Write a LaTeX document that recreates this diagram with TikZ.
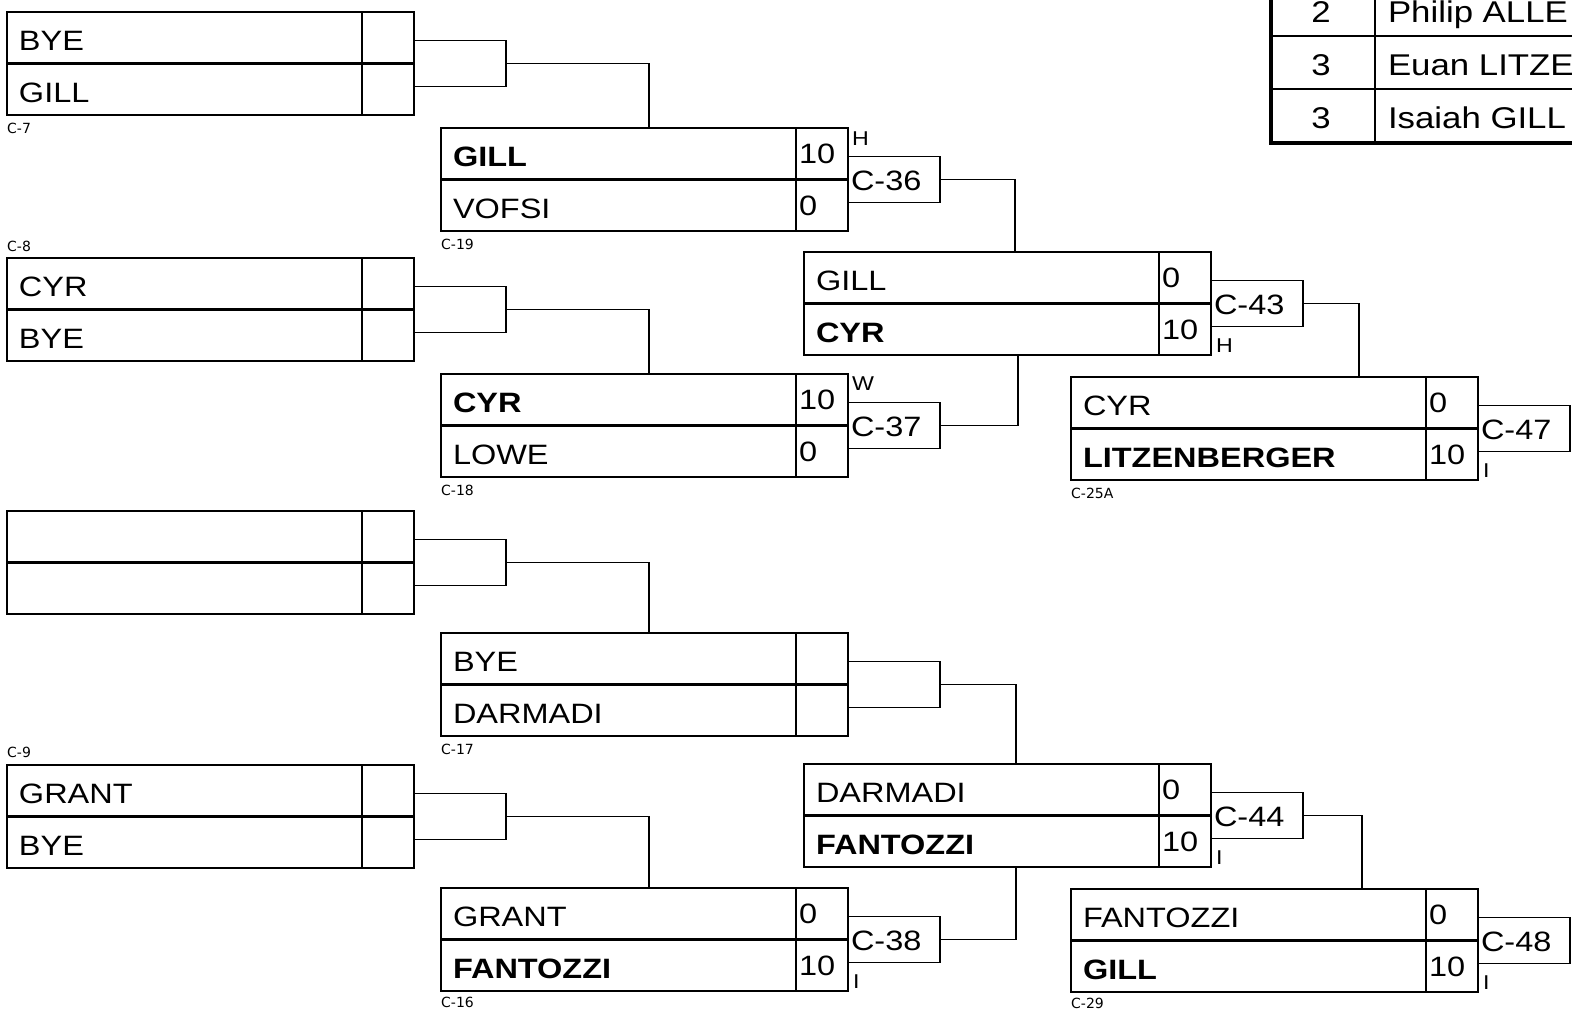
\documentclass[tikz,border=0pt]{standalone}
\usepackage{fontspec}
\setmainfont[FakeStretch=1.16]{Liberation Sans}
\newfontfamily\lblfont{DejaVu Sans}
\newcommand{\bkmatch}[7]{%
  \node[mbox, anchor=north west] (#1) at (#2,#3) {};
  \draw[midline] (#1.west) -- (#1.east);
  \draw[divline] ([xshift=-52pt]#1.north east) -- ([xshift=-52pt]#1.south east);
  \node[nm, anchor=base west] (#1-a) at ([xshift=12pt,yshift=-38pt]#1.north west) {#4};
  \node[nm, anchor=base west] (#1-b) at ([xshift=12pt,yshift=13pt]#1.south west) {#5};
  \node[nm, anchor=base west] (#1-sa) at ([xshift=-49pt,yshift=-35pt]#1.north east) {#6};
  \node[nm, anchor=base west] (#1-sb) at ([xshift=-49pt,yshift=16pt]#1.south east) {#7};
}
\newcommand{\bksmall}[2]{%
  \node[sbox, anchor=west] (#1-s) at (#1.east) {};
  \node[nm, anchor=base west] (#1-st) at ([xshift=3pt,yshift=-11pt]#1-s.west) {#2};
}
\begin{document}
\begin{tikzpicture}[x=1pt,y=-1pt,
  mbox/.style={draw, line width=2pt, minimum width=407pt, minimum height=103pt, inner sep=0pt, outer sep=0pt},
  sbox/.style={draw, line width=1.8pt, minimum width=92pt, minimum height=46pt, inner sep=0pt, outer sep=0pt},
  midline/.style={line width=3pt},
  divline/.style={line width=2pt},
  conn/.style={line width=1.6pt},
  nm/.style={font=\fontsize{28}{30}\selectfont, inner sep=0pt, outer sep=0pt},
  tb/.style={font=\fontsize{30}{32}\selectfont, inner sep=0pt, outer sep=0pt},
  side/.style={font=\fontsize{20}{22}\selectfont, inner sep=0pt},
  lbl/.style={font=\lblfont\fontsize{14}{16}\selectfont, inner sep=0pt},
  tthin/.style={line width=2.5pt},
  tthick/.style={line width=4pt}]
\useasboundingbox (0,0) rectangle (1572,1017);
\clip (0,0) rectangle (1572,1017);
\fill[white] (0,0) rectangle (1572,1017);

% first round
\bkmatch{m7}{7}{12}{BYE}{GILL}{}{}
\bksmall{m7}{}
\node[lbl, anchor=base west] (l7) at ([yshift=-18pt]m7.south west) {C-7};
\bkmatch{m8}{7}{258}{CYR}{BYE}{}{}
\bksmall{m8}{}
\node[lbl, anchor=base west] (l8) at ([yshift=7pt]m8.north west) {C-8};
\bkmatch{mx}{7}{511}{}{}{}{}
\bksmall{mx}{}
\bkmatch{m9}{7}{765}{GRANT}{BYE}{}{}
\bksmall{m9}{}
\node[lbl, anchor=base west] (l9) at ([yshift=8pt]m9.north west) {C-9};

% second round
\bkmatch{m19}{441}{128}{\textbf{GILL}}{VOFSI}{10}{0}
\bksmall{m19}{C-36}
\node[lbl, anchor=base west] (l19) at ([yshift=-18pt]m19.south west) {C-19};
\node[side, anchor=base west] (h19) at ([xshift=4pt,yshift=-17pt]m19.north east) {H};

\bkmatch{m18}{441}{374}{\textbf{CYR}}{LOWE}{10}{0}
\bksmall{m18}{C-37}
\node[lbl, anchor=base west] (l18) at ([yshift=-18pt]m18.south west) {C-18};
\node[side, anchor=base west] (h18) at ([xshift=4pt,yshift=-16pt]m18.north east) {W};

\bkmatch{m17}{441}{633}{BYE}{DARMADI}{}{}
\bksmall{m17}{}
\node[lbl, anchor=base west] (l17) at ([yshift=-18pt]m17.south west) {C-17};

\bkmatch{m16}{441}{888}{GRANT}{\textbf{FANTOZZI}}{0}{10}
\bksmall{m16}{C-38}
\node[lbl, anchor=base west] (l16) at ([yshift=-16pt]m16.south west) {C-16};
\node[side, anchor=base west] (h16) at ([xshift=5pt,yshift=3pt]m16.south east) {I};

% third round
\bkmatch{m43}{804}{252}{GILL}{\textbf{CYR}}{0}{10}
\bksmall{m43}{C-43}
\node[side, anchor=base west] (h43) at ([xshift=5pt,yshift=3pt]m43.south east) {H};

\bkmatch{m44}{804}{764}{DARMADI}{\textbf{FANTOZZI}}{0}{10}
\bksmall{m44}{C-44}
\node[side, anchor=base west] (h44) at ([xshift=5pt,yshift=3pt]m44.south east) {I};

% fourth round
\bkmatch{m25}{1071}{377}{CYR}{\textbf{LITZENBERGER}}{0}{10}
\bksmall{m25}{C-47}
\node[lbl, anchor=base west] (l25) at ([yshift=-18pt]m25.south west) {C-25A};
\node[side, anchor=base west] (h25) at ([xshift=5pt,yshift=3pt]m25.south east) {I};

\bkmatch{m29}{1071}{889}{FANTOZZI}{\textbf{GILL}}{0}{10}
\bksmall{m29}{C-48}
\node[lbl, anchor=base west] (l29) at ([yshift=-16pt]m29.south west) {C-29};
\node[side, anchor=base west] (h29) at ([xshift=5pt,yshift=3pt]m29.south east) {I};

% connectors
\draw[conn] (m7-s.east) -| ([xshift=4.5pt]m19.north);
\draw[conn] (m8-s.east) -| ([xshift=4.5pt]m18.north);
\draw[conn] (mx-s.east) -| ([xshift=4.5pt]m17.north);
\draw[conn] (m9-s.east) -| ([xshift=4.5pt]m16.north);
\draw[conn] (m19-s.east) -| ([xshift=7.5pt]m43.north);
\draw[conn] (m18-s.east) -| ([xshift=10.5pt]m43.south);
\draw[conn] (m17-s.east) -| ([xshift=8.5pt]m44.north);
\draw[conn] (m16-s.east) -| ([xshift=8.5pt]m44.south);
\draw[conn] (m43-s.east) -| ([xshift=84.5pt]m25.north);
\draw[conn] (m44-s.east) -| ([xshift=87.5pt]m29.north);

% table (top right)
\coordinate (tl) at (1271,-10);
\coordinate (tb) at (1271,143);
\draw[tthin] (1375,-10) -- (1375,143);
\draw[tthin] (1271,36) -- (1580,36);
\draw[tthin] (1271,89) -- (1580,89);
\draw[tthick] (tl) -- (tb) -- (1580,143);
\node[tb, anchor=base] (t1n) at (1321,22) {2};
\node[tb, anchor=base west] (t1p) at (1388,22) {Philip ALLE};
\node[tb, anchor=base] (t2n) at (1321,75) {3};
\node[tb, anchor=base west] (t2p) at (1388,75) {Euan LITZE};
\node[tb, anchor=base] (t3n) at (1321,128) {3};
\node[tb, anchor=base west] (t3p) at (1388,128) {Isaiah GILL};
\end{tikzpicture}
\end{document}
